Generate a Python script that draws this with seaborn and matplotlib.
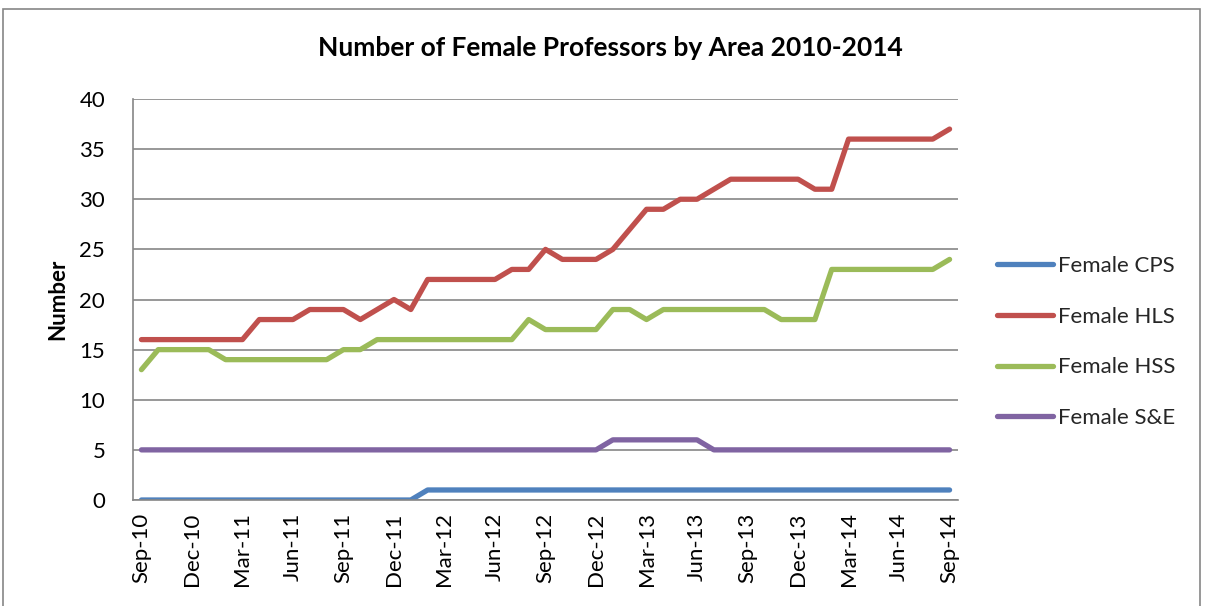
import numpy as np
import pandas as pd
import matplotlib.pyplot as plt
import matplotlib.patches as mpatches
import seaborn as sns

# -------------------------
# Data (monthly, Sep-10 .. Sep-14)
# -------------------------
months = pd.date_range("2010-09-01", "2014-09-01", freq="MS").strftime("%b-%y").tolist()

female_cps = [0] * 17 + [1] * 32
female_hls = ([16] * 7 + [18] * 3 + [19] * 3 + [18, 19, 20, 19] + [22] * 5 + [23] * 2
              + [25] + [24] * 3 + [25, 27] + [29] * 2 + [30] * 2 + [31] + [32] * 5
              + [31] * 2 + [36] * 6 + [37])
female_hss = ([13] + [15] * 4 + [14] * 7 + [15] * 2 + [16] * 9 + [18] + [17] * 4
              + [19] * 2 + [18] + [19] * 7 + [18] * 3 + [23] * 7 + [24])
female_se = [5] * 28 + [6] * 6 + [5] * 15

series_names = ["Female CPS", "Female HLS", "Female HSS", "Female S&E"]
colors = ["#4F81BD", "#C0504D", "#9BBB59", "#8064A2"]

df = pd.DataFrame({
    "idx": np.arange(len(months)),
    "Female CPS": female_cps,
    "Female HLS": female_hls,
    "Female HSS": female_hss,
    "Female S&E": female_se,
})
long_df = df.melt(id_vars="idx", var_name="Series", value_name="Number")

# -------------------------
# Plot
# -------------------------
sns.set_theme(style="white")
plt.rcParams['font.family'] = ['Lato', 'DejaVu Sans']

fig = plt.figure(figsize=(12.05, 6.06), dpi=100)
ax = fig.add_axes([133 / 1205, 1 - 500 / 606, (958 - 133) / 1205, (500 - 99) / 606])

sns.lineplot(data=long_df, x="idx", y="Number", hue="Series",
             hue_order=series_names, palette=colors, linewidth=3.8,
             ax=ax, legend=False, solid_capstyle="round")

ax.set_xlim(-0.5, len(months) - 0.5)
ax.set_ylim(0, 40)
ax.set_yticks(range(0, 41, 5))
ax.tick_params(axis="y", labelsize=16, pad=20, length=0, labelcolor="black")
ax.set_xticks(range(0, len(months), 3))
ax.set_xticklabels(months[::3], rotation=90, fontsize=16, color="black")
ax.tick_params(axis="x", length=0, pad=9)
ax.grid(axis="y", color="#868686", linewidth=1.2)
ax.set_axisbelow(True)
for side in ["top", "right"]:
    ax.spines[side].set_visible(False)
for side in ["left", "bottom"]:
    ax.spines[side].set_color("#868686")
    ax.spines[side].set_linewidth(1.2)

ax.set_xlabel("")
ax.set_ylabel("Number", fontsize=16, fontweight="bold", labelpad=8, color="black")

fig.text(610 / 1205, 1 - 48 / 606, "Number of Female Professors by Area 2010-2014",
         ha="center", va="center", fontsize=19, fontweight="bold", color="black")

handles = [plt.Line2D([], [], color=c, linewidth=3.8, solid_capstyle="round") for c in colors]
fig.legend(handles, series_names, loc="center left",
           bbox_to_anchor=(997 / 1205, 1 - 342 / 606), frameon=False,
           fontsize=16, handlelength=2.5, handletextpad=0.25,
           labelspacing=1.38, borderpad=0, borderaxespad=0)

# outer chart frame (bottom cut off)
fig.patches.append(mpatches.Rectangle((3 / 1205, -0.1), (1200 - 3) / 1205, 1.1 - 9 / 606,
                                      transform=fig.transFigure, fill=False,
                                      edgecolor="#868686", linewidth=1.2))

fig.savefig("out.png", dpi=100)
